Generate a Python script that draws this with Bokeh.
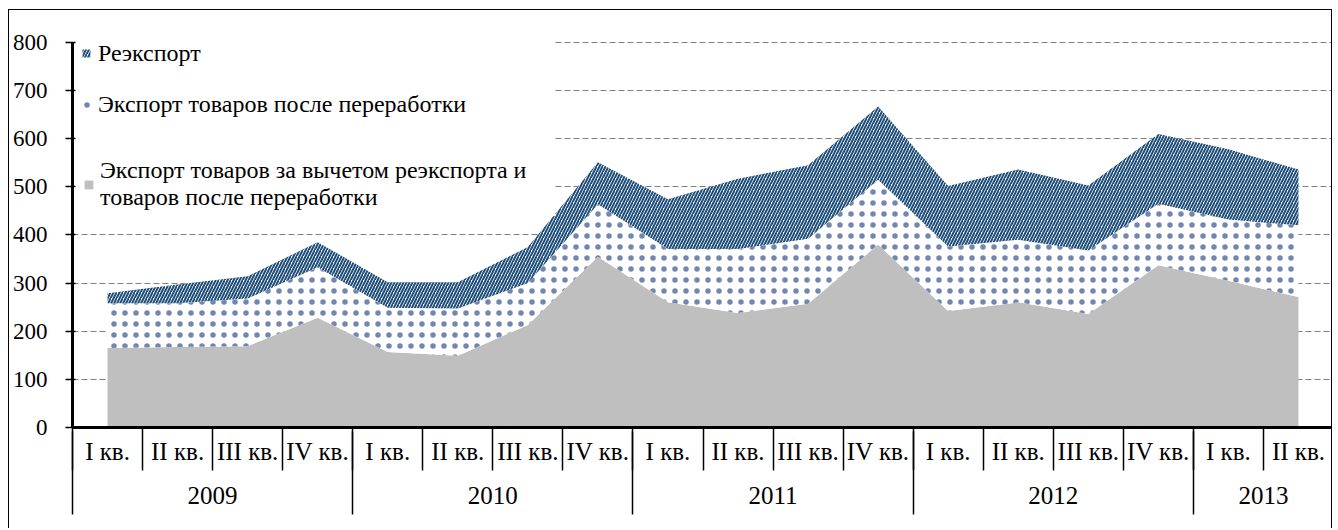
import numpy as np
from bokeh.plotting import figure
from bokeh.models import (ColumnDataSource, Range1d, LinearAxis, FixedTicker,
                          Legend, LegendItem, Grid)
from bokeh.transform import stack
from bokeh.embed import file_html
from bokeh.resources import INLINE

# ---------------- data ----------------
quarter_labels = ["I кв.", "II кв.", "III кв.", "IV кв.",
                  "I кв.", "II кв.", "III кв.", "IV кв.",
                  "I кв.", "II кв.", "III кв.", "IV кв.",
                  "I кв.", "II кв.", "III кв.", "IV кв.",
                  "I кв.", "II кв."]
year_labels = ["2009", "2010", "2011", "2012", "2013"]
quarters_per_year = [4, 4, 4, 4, 2]

# Экспорт товаров за вычетом реэкспорта и товаров после переработки
base_export = [165, 167, 169, 228, 157, 149, 213, 355, 260, 238, 257, 380,
               242, 260, 236, 337, 305, 271]
# Экспорт товаров после переработки
processed_export = [93, 91, 99, 105, 92, 98, 87, 109, 111, 133, 135, 135,
                    134, 130, 132, 128, 127, 149]
# Реэкспорт
reexport = [21, 39, 46, 52, 53, 55, 75, 87, 103, 146, 153, 152,
            126, 146, 135, 145, 146, 116]

series_names = ["Реэкспорт",
                "Экспорт товаров после переработки",
                "Экспорт товаров за вычетом реэкспорта и\nтоваров после переработки"]

y_ticks = [0, 100, 200, 300, 400, 500, 600, 700, 800]

# ---------------- derived positions ----------------
n = len(quarter_labels)
x = np.arange(n) + 0.5
q_bounds = list(range(n + 1))
y_starts = np.concatenate([[0], np.cumsum(quarters_per_year)[:-1]])
y_centers = [float(s + c / 2) for s, c in zip(y_starts, quarters_per_year)]
y_bounds = [0] + [int(v) for v in np.cumsum(quarters_per_year)]

src = ColumnDataSource(dict(x=x, base=base_export, proc=processed_export,
                            reex=reexport))

FONT = "Liberation Serif"
HATCH_BLUE = "#1F4E79"
LEGEND_RIGHT = 6.89   # x (in quarter units) where the legend box ends

p = figure(width=1324, height=519, output_backend="svg", toolbar_location=None,
           x_range=Range1d(0, n), y_range=Range1d(0, 802),
           x_axis_type=None, y_axis_type="linear",
           min_border_left=61, min_border_right=0, min_border_top=31,
           min_border_bottom=102)
p.styles = {"border-left": "1px solid #000000",
            "border-top": "1px solid #000000",
            "border-right": "1px solid #000000",
            "margin-left": "8px", "margin-top": "9px"}
p.background_fill_color = "white"
p.border_fill_color = "white"
p.outline_line_color = None

# grid
p.xgrid.visible = False


def style_grid(g):
    g.grid_line_color = "#808080"
    g.grid_line_dash = "6 3"
    g.grid_line_width = 1.2


if "cross_bounds" in Grid.properties():
    p.ygrid.ticker = FixedTicker(ticks=[t for t in y_ticks if t <= 400])
    style_grid(p.ygrid)
    g2 = Grid(dimension=1, ticker=FixedTicker(ticks=[t for t in y_ticks if t > 400]),
              cross_bounds=(LEGEND_RIGHT, n))
    style_grid(g2)
    p.add_layout(g2)
else:
    p.ygrid.ticker = FixedTicker(ticks=y_ticks)
    style_grid(p.ygrid)

# y axis
ya = p.yaxis[0]
ya.ticker = FixedTicker(ticks=y_ticks)
ya.bounds = (0, 800)
ya.axis_line_color = "black"
ya.axis_line_width = 3
ya.major_tick_line_color = "black"
ya.major_tick_line_width = 1.5
ya.major_tick_out = 7
ya.major_tick_in = 3
ya.minor_tick_line_color = None
ya.major_label_standoff = 18
ya.major_label_text_font = FONT
ya.major_label_text_font_size = "23px"
ya.major_label_text_color = "black"

# x axis: quarters
xa = LinearAxis(ticker=FixedTicker(ticks=[float(v) for v in x], minor_ticks=q_bounds),
                major_label_overrides={float(v): lab for v, lab in zip(x, quarter_labels)})
xa.axis_line_color = "black"
xa.axis_line_width = 3
xa.major_tick_line_color = None
xa.major_tick_out = 0
xa.major_tick_in = 0
xa.minor_tick_line_color = "black"
xa.minor_tick_line_width = 1.5
xa.minor_tick_out = 43
xa.minor_tick_in = 0
xa.major_label_standoff = -33
xa.major_label_text_font = FONT
xa.major_label_text_font_size = "25px"
xa.major_label_text_color = "black"
p.add_layout(xa, "below")

# x axis: years
ya2 = LinearAxis(ticker=FixedTicker(ticks=y_centers, minor_ticks=y_bounds),
                 major_label_overrides={c: lab for c, lab in zip(y_centers, year_labels)})
ya2.axis_line_color = None
ya2.major_tick_line_color = None
ya2.major_tick_out = 0
ya2.major_tick_in = 0
ya2.minor_tick_line_color = "black"
ya2.minor_tick_line_width = 1.5
ya2.minor_tick_in = 36
ya2.minor_tick_out = 47
ya2.major_label_standoff = -28
ya2.major_label_text_font = FONT
ya2.major_label_text_font_size = "25px"
ya2.major_label_text_color = "black"
p.add_layout(ya2, "below")

# areas
r_base = p.varea(x="x", y1=0, y2=stack("base"), source=src,
                 fill_color="#BFBFBF")
r_proc = p.varea(x="x", y1=stack("base"), y2=stack("base", "proc"), source=src,
                 fill_color="white", hatch_pattern="dot", hatch_color="#34548F",
                 hatch_scale=11, hatch_weight=2.5, hatch_alpha=0.7)
r_reex = p.varea(x="x", y1=stack("base", "proc"), y2=stack("base", "proc", "reex"),
                 source=src, fill_color="white", hatch_pattern="right_diagonal_line",
                 hatch_color=HATCH_BLUE, hatch_scale=6, hatch_weight=2)


def make_legend(items, location, label_height, spacing, glyph, standoff):
    lg = Legend(items=items, location=location)
    lg.background_fill_color = "white"
    lg.background_fill_alpha = 1.0
    lg.border_line_color = None
    lg.padding = 16
    lg.spacing = spacing
    lg.glyph_width = glyph
    lg.glyph_height = glyph
    lg.label_height = label_height
    lg.label_width = 455
    lg.label_standoff = standoff
    lg.label_text_font = FONT
    lg.label_text_font_size = "24px"
    lg.label_text_color = "black"
    lg.label_text_line_height = 1.35
    return lg


legend_a = make_legend([LegendItem(label=series_names[0], renderers=[r_reex]),
                        LegendItem(label=series_names[1], renderers=[r_proc])],
                       location=(9, 309), label_height=28, spacing=23,
                       glyph=10, standoff=7)
legend_b = make_legend([LegendItem(label=series_names[2], renderers=[r_base])],
                       location=(11, 211), label_height=64, spacing=0,
                       glyph=11, standoff=6)
p.add_layout(legend_a, "center")
p.add_layout(legend_b, "center")

open("out.html", "w").write(file_html(p, INLINE))
